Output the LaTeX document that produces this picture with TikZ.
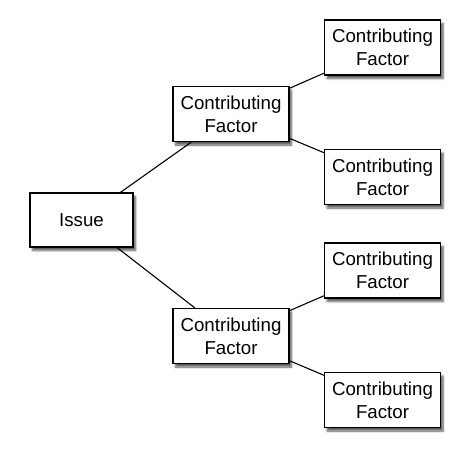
\documentclass[tikz,border=0pt]{standalone}
\usepackage{fontspec}
\setmainfont{Liberation Sans}
\usepackage{tikz}
\usetikzlibrary{shadows.blur}

\tikzset{
  factorbox/.style={draw=black, fill=white, line width=1.2pt,
    minimum width=116pt, minimum height=55pt, inner sep=0pt,
    align=center, font=\fontsize{18.7}{23}\selectfont,
    blur shadow={shadow xshift=2.5pt, shadow yshift=-3.5pt, shadow blur steps=6, shadow opacity=65}},
  link/.style={line width=1.1pt}
}

\begin{document}
\begin{tikzpicture}[x=1pt, y=-1pt]
   \useasboundingbox (0,0) rectangle (458,455);
   \node[factorbox, minimum width=103pt, minimum height=54pt] (issue) at (81.5,220) {Issue};
   \node[factorbox] (cf1) at (231,114) {Contributing\\Factor};
   \node[factorbox] (cf2) at (231,336) {Contributing\\Factor};
   \node[factorbox] (cf11) at (382.5,47.5) {Contributing\\Factor};
   \node[factorbox] (cf12) at (382.5,177) {Contributing\\Factor};
   \node[factorbox] (cf21) at (382.5,270.5) {Contributing\\Factor};
   \node[factorbox] (cf22) at (382.5,400) {Contributing\\Factor};
   \draw[link] (issue) -- (cf1);
   \draw[link] (issue) -- (cf2);
   \draw[link] (cf1) -- (cf11);
   \draw[link] (cf1) -- (cf12);
   \draw[link] (cf2) -- (cf21);
   \draw[link] (cf2) -- (cf22);
  \end{tikzpicture}
\end{document}
